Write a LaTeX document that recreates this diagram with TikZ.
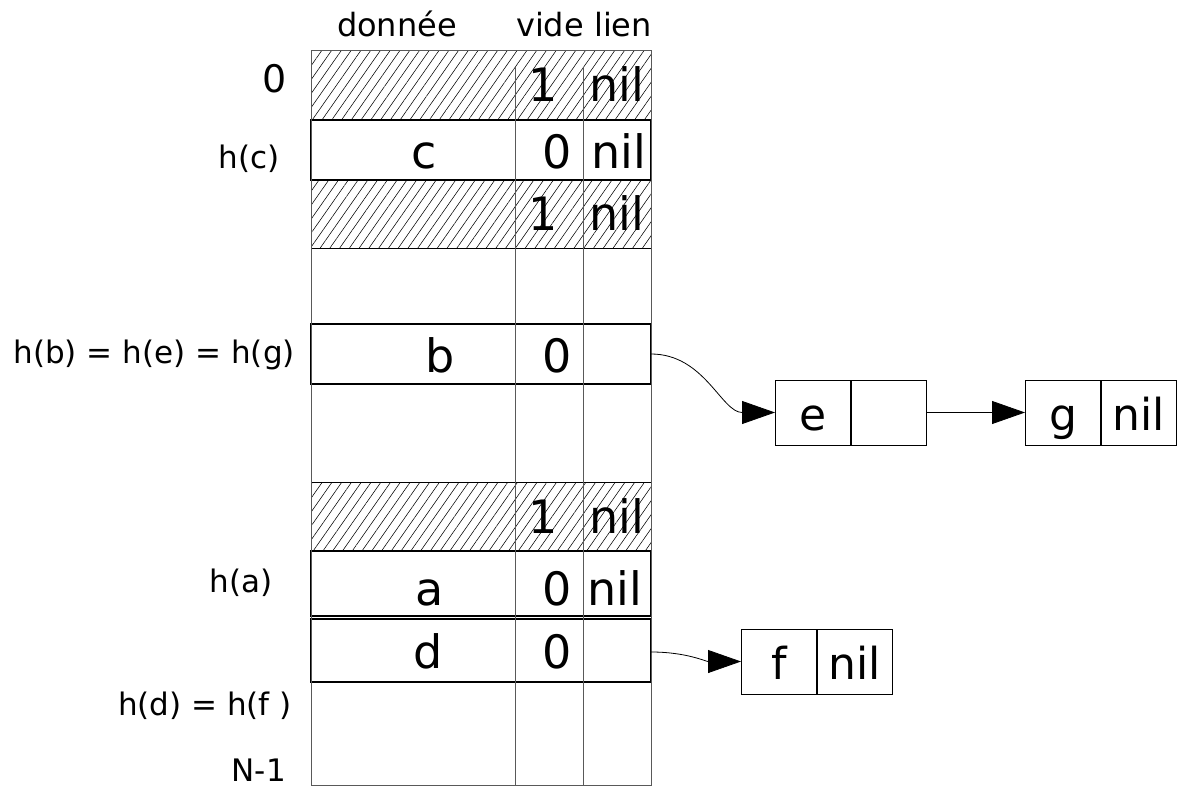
\documentclass[tikz,border=0pt]{standalone}
\usepackage{fontspec}
\setmainfont{DejaVu Sans}
\usetikzlibrary{patterns.meta,arrows.meta,positioning}

\begin{document}
\begin{tikzpicture}[x=1pt,y=-1pt,
	hatched/.style={line width=1pt,pattern={Lines[angle=55,distance=8pt,line width=0.55pt]}},
	used/.style={line width=1.2pt},
	rule/.style={line width=1pt,black!65},
	txt/.style={font=\fontsize{46}{50}\selectfont,inner sep=0pt,anchor=base},
	lbl/.style={font=\fontsize{31}{35}\selectfont,inner sep=0pt,anchor=base east},
	cell/.style={draw,line width=1pt,inner sep=0pt,minimum width=75pt,minimum height=65pt,
		text height=35pt,text depth=0pt,font=\fontsize{44}{48}\selectfont},
	link/.style={-{Triangle[length=33pt,width=23pt]},line width=0.8pt}]
	\useasboundingbox (0,0) rectangle (1177,789);

	% the table
	\foreach \y/\h in {51/120,180/248,482/551}
		\draw[hatched] (311,\y) rectangle (651,\h);
	\foreach \y/\h in {120/180,324/384,551/616,619/682}
		\draw[used] (311,\y) rectangle (651,\h);
	\draw[rule] (311,51) rectangle (651,785);
	\foreach \x in {515,583}
		\draw[rule] (\x,67) -- (\x,785);

	\node[lbl,anchor=base,font=\fontsize{32}{36}\selectfont] at (397,37) (donnee) {donnée};
	\node[lbl,anchor=base,font=\fontsize{32}{36}\selectfont] at (584,37) (videlien) {vide lien};

	% empty slots
	\foreach \y in {102,230,533}{
		\node[txt] at (543,\y) (one\y) {1};
		\node[txt] at (617,\y) (nil\y) {nil};
	}
	% slots in use
	\foreach \k/\x/\y in {c/424/168,b/440/372,a/430/605,d/428/668}{
		\node[txt] at (\x,\y) (\k) {\k};
		\node[txt] at (557,\y) (zero\k) {0};
	}
	\node[txt] at (619,168) (nilc) {nil};
	\node[txt] at (615,605) (nila) {nil};

	% hash values
	\node[lbl,font=\fontsize{38}{42}\selectfont] at (287,93) (first) {0};
	\foreach \t/\x/\y [count=\i] in {h(c)/280/168,h(b) = h(e) = h(g)/295/363,h(a)/273/592,h(d) = h(f )/292/715,N-1/286/781}
		\node[lbl] at (\x,\y) (h\i) {\t};

	% overflow lists
	\coordinate (blink) at (651,354);
	\coordinate (dlink) at (651,652);
	\node[cell] at (813,412.5) (e) {e};
	\node[cell,right=0pt of e] (elink) {};
	\node[cell] at (1063,412.5) (g) {g};
	\node[cell,right=0pt of g] (gnil) {nil};
	\node[cell] at (779,661.5) (f) {f};
	\node[cell,right=0pt of f] (fnil) {nil};

	\draw[link] (blink) to[out=0,in=180] (e.west);
	\draw[link] (elink.east) -- (g.west);
	\draw[link] (dlink) to[out=0,in=180] (f.west);
\end{tikzpicture}
\end{document}
